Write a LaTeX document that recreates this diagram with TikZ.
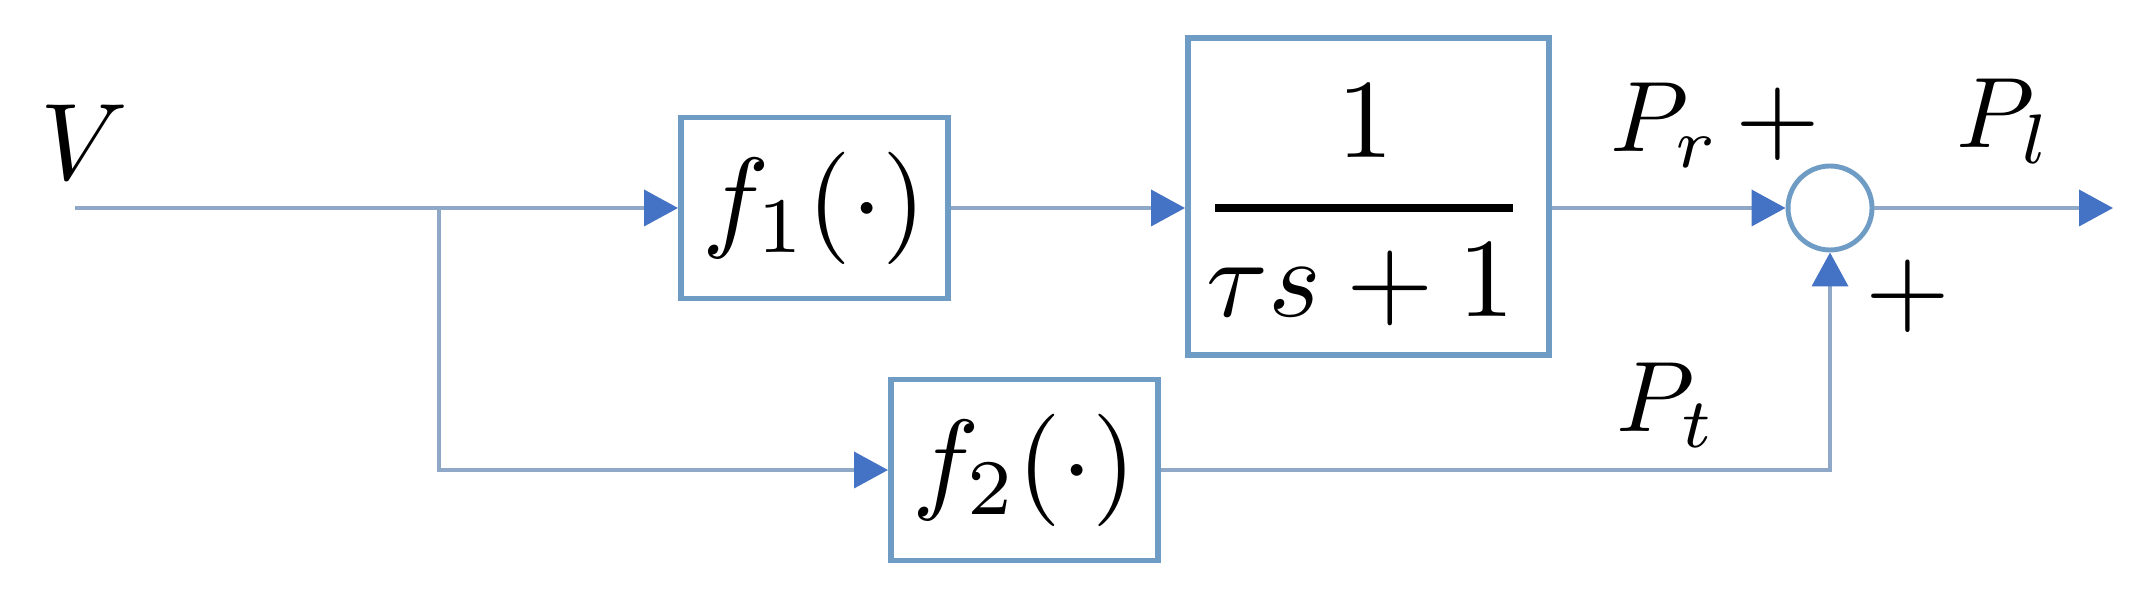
\documentclass[tikz,border=0pt]{standalone}
\usepackage{amsmath}
\usetikzlibrary{arrows.meta}
\definecolor{boxc}{HTML}{6E9CC4}
\definecolor{linec}{HTML}{8FA8C8}
\definecolor{tipc}{HTML}{4472C4}
\newcommand\enlbig[1]{\scalebox{3.2}{#1}}
\newcommand\enllbl[1]{\scalebox{3.1}{#1}}
\newcommand\enlsig[1]{\scalebox{2.85}{#1}}
\tikzset{
  blockbox/.style={draw=boxc, line width=1.7pt, minimum width=2.67cm, minimum height=1.81cm, inner sep=0pt},
  sig/.style={draw=linec, line width=1.1pt},
  arr/.style={sig, -{Triangle[length=3.4mm,width=3.6mm,color=tipc]}},
  lbl/.style={inner sep=0pt},
  sumnode/.style={circle, draw=boxc, line width=1.4pt, minimum size=0.84cm, inner sep=0pt}
}
\begin{document}
\begin{tikzpicture}
\useasboundingbox (0,0) rectangle (21.42,5.92);
% signal points
\coordinate (in) at (0.75,3.84);
\coordinate (br) at (4.39,3.84);
\coordinate (out) at (21.13,3.84);
% blocks
\node[blockbox] (f1) at (8.145,3.84) {\enlbig{$f_1(\cdot)$}};
\node[blockbox, minimum width=3.61cm, minimum height=3.17cm] (tf) at (13.685,3.955) {};
\node[lbl, anchor=base] (num) at (13.66,4.34) {\enlbig{$1$}};
\coordinate (barL) at (12.15,3.84);
\coordinate (barR) at (15.13,3.84);
\draw[line width=0.08cm] (barL) -- (barR);
\node[lbl, anchor=base] (den) at (13.61,2.75) {\enlbig{$\tau s+1$}};
\node[blockbox] (f2) at (10.245,1.22) {\enlbig{$f_2(\cdot)$}};
\node[sumnode] (sum) at (18.30,3.84) {};
% labels
\node[lbl, anchor=base west] (V) at (0.40,4.12) {\enllbl{$V$}};
\node[lbl, anchor=base west] (Pr) at (16.10,4.40) {\enlsig{$P_r$}};
\node[lbl] (plus1) at (17.78,4.68) {\enllbl{$+$}};
\node[lbl, anchor=base west] (Pl) at (19.56,4.44) {\enlsig{$P_l$}};
\node[lbl] (plus2) at (19.08,2.96) {\enllbl{$+$}};
\node[lbl, anchor=base west] (Pt) at (16.16,1.60) {\enlsig{$P_t$}};
% connectors
\draw[sig] (in) -- (br);
\draw[arr] (br) -- (f1.west);
\draw[arr] (br) |- (f2.west);
\draw[arr] (f1.east) -- (f1.east -| tf.west);
\draw[arr] (sum.west -| tf.east) -- (sum.west);
\draw[arr] (sum.east) -- (out);
\draw[arr] (f2.east) -| (sum.south);
\end{tikzpicture}
\end{document}
